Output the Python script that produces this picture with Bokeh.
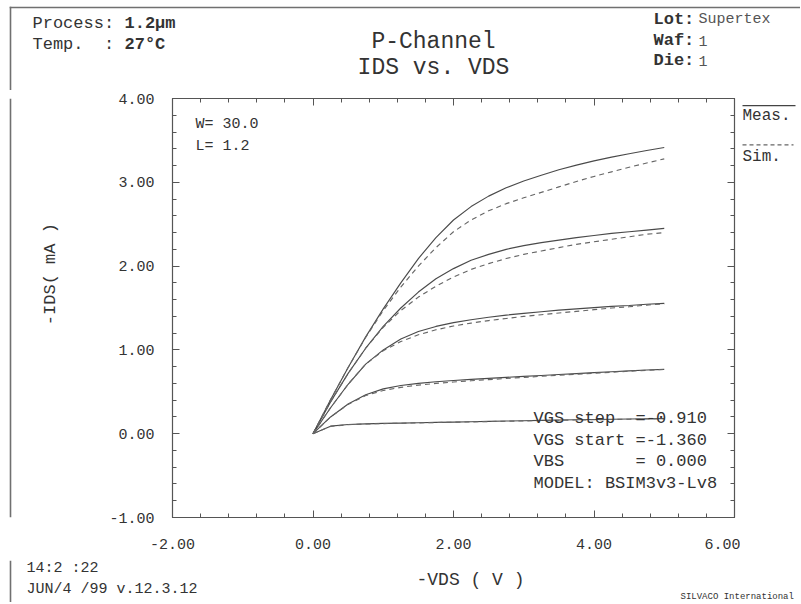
from bokeh.plotting import figure
from bokeh.models import Range1d, LinearAxis, FixedTicker, Label
from bokeh.layouts import column, row
from bokeh.embed import file_html
from bokeh.resources import INLINE
import math

# ---------------- data ----------------
vds = [0, 0.25, 0.5, 0.75, 1.0, 1.25, 1.5, 1.75, 2.0, 2.25, 2.5, 2.75,
       3.0, 3.25, 3.5, 3.75, 4.0, 4.25, 4.5, 4.75, 5.0]

meas_1 = [0, 0.405, 0.79, 1.155, 1.49, 1.80, 2.09, 2.34, 2.55, 2.71, 2.835,
          2.935, 3.015, 3.085, 3.15, 3.205, 3.255, 3.30, 3.34, 3.38, 3.415]
sim_1 = [0, 0.405, 0.79, 1.15, 1.47, 1.75, 2.00, 2.22, 2.41, 2.55, 2.66,
         2.745, 2.815, 2.88, 2.945, 3.01, 3.07, 3.125, 3.18, 3.23, 3.28]

meas_2 = [0, 0.38, 0.72, 1.02, 1.28, 1.50, 1.69, 1.85, 1.97, 2.07, 2.14,
          2.20, 2.245, 2.28, 2.31, 2.34, 2.365, 2.39, 2.41, 2.43, 2.45]
sim_2 = [0, 0.38, 0.72, 1.02, 1.27, 1.47, 1.63, 1.76, 1.87, 1.96, 2.03,
         2.09, 2.14, 2.18, 2.22, 2.26, 2.29, 2.32, 2.35, 2.38, 2.40]

meas_3 = [0, 0.31, 0.59, 0.83, 1.00, 1.13, 1.22, 1.28, 1.325, 1.36, 1.39,
          1.415, 1.435, 1.455, 1.475, 1.49, 1.505, 1.52, 1.53, 1.545, 1.555]
sim_3 = [0, 0.31, 0.59, 0.83, 0.99, 1.10, 1.18, 1.24, 1.285, 1.32, 1.35,
         1.375, 1.40, 1.42, 1.44, 1.46, 1.48, 1.50, 1.515, 1.535, 1.55]

meas_4 = [0, 0.20, 0.355, 0.465, 0.535, 0.575, 0.60, 0.62, 0.635, 0.648, 0.66,
          0.672, 0.684, 0.695, 0.706, 0.717, 0.728, 0.739, 0.75, 0.76, 0.768]
sim_4 = [0, 0.20, 0.35, 0.455, 0.515, 0.553, 0.58, 0.60, 0.617, 0.632, 0.646,
         0.659, 0.672, 0.685, 0.698, 0.71, 0.722, 0.734, 0.746, 0.757, 0.767]

meas_5 = [0, 0.09, 0.11, 0.118, 0.123, 0.127, 0.131, 0.135, 0.139, 0.143, 0.147,
          0.151, 0.155, 0.159, 0.163, 0.166, 0.169, 0.172, 0.175, 0.178, 0.18]
sim_5 = [0, 0.087, 0.108, 0.116, 0.121, 0.125, 0.129, 0.133, 0.137, 0.141, 0.145,
         0.149, 0.153, 0.157, 0.161, 0.164, 0.167, 0.170, 0.173, 0.176, 0.179]

meas_series = [meas_1, meas_2, meas_3, meas_4, meas_5]
sim_series = [sim_1, sim_2, sim_3, sim_4, sim_5]

x_ticks = [-2, 0, 2, 4, 6]
x_tick_labels = ["-2.00", "0.00", "2.00", "4.00", "6.00"]
y_ticks = [-1, 0, 1, 2, 3, 4]
y_tick_labels = ["-1.00", "0.00", "1.00", "2.00", "3.00", "4.00"]
x_minor = [round(-2 + 0.4 * i, 2) for i in range(21)]
y_minor = [round(-1 + 0.2 * i, 2) for i in range(26)]

NB = "\u00a0"
info_lines = ["VGS step" + NB * 2 + "=-0.910",
              "VGS start" + NB + "=-1.360",
              "VBS" + NB * 7 + "=" + NB + "0.000",
              "MODEL:" + NB + "BSIM3v3-Lv8"]

# ---------------- layout (page pixels) ----------------
TOTAL_W = 800
HEAD_H = 90          # header strip: page y 0..90
MID_H = 470          # middle: page y 90..560
FOOT_H = 42          # footer: page y 560..602
LEFT_W = 64          # left strip: page x 0..64
MAIN_W = 676         # main figure: page x 64..740
RIGHT_W = TOTAL_W - LEFT_W - MAIN_W   # right strip: 740..800

FL, FT, FR, FB = 172, 98, 734, 517     # plot frame, page pixels
XR = (-2.0, 6.0)
YR = (-1.0, 4.0)

MONO = "Liberation Mono"
INK = "#333333"
LINE = "#555555"
BORDER = "#707070"


def dx(px):
    return XR[0] + (px - FL) * (XR[1] - XR[0]) / (FR - FL)


def dy(py):
    return YR[1] - (py - FT) * (YR[1] - YR[0]) / (FB - FT)


def text_fig(w, h):
    f = figure(width=w, height=h, output_backend="svg", toolbar_location=None,
               title=None,
               x_range=Range1d(0, w), y_range=Range1d(h, 0),
               x_axis_type=None, y_axis_type=None,
               min_border_left=0, min_border_right=0,
               min_border_top=0, min_border_bottom=0)
    f.outline_line_color = None
    f.background_fill_color = "white"
    f.border_fill_color = "white"
    return f


def lab(fig, x, y, text, size, bold=False, align="left", color=INK, angle=0.0):
    fig.add_layout(Label(x=x, y=y, text=text, text_font=MONO,
                         text_font_size=size,
                         text_font_style="bold" if bold else "normal",
                         text_align=align, text_baseline="middle",
                         text_color=color, angle=angle))


# ---------------- main chart ----------------
p = figure(width=MAIN_W, height=MID_H, output_backend="svg", toolbar_location=None,
           title=None,
           x_range=Range1d(*XR), y_range=Range1d(*YR),
           min_border_left=FL - LEFT_W, min_border_right=LEFT_W + MAIN_W - FR,
           min_border_top=FT - HEAD_H, min_border_bottom=HEAD_H + MID_H - FB)
p.xgrid.visible = False
p.ygrid.visible = False
p.outline_line_color = LINE
p.outline_line_width = 1.2
p.background_fill_color = "white"
p.border_fill_color = "white"


def style_axis(ax, ticks, minor, labels, show):
    ax.ticker = FixedTicker(ticks=ticks, minor_ticks=minor)
    ax.major_tick_in = 7
    ax.major_tick_out = 0
    ax.minor_tick_in = 4
    ax.minor_tick_out = 0
    ax.axis_line_color = LINE
    ax.major_tick_line_color = LINE
    ax.minor_tick_line_color = LINE
    if show:
        ax.major_label_overrides = {t: s for t, s in zip(ticks, labels)}
        ax.major_label_text_font = MONO
        ax.major_label_text_font_size = "15px"
        ax.major_label_text_color = INK
    else:
        ax.major_label_standoff = 0
        ax.major_label_text_font_size = "1px"
        ax.major_label_text_color = None


style_axis(p.xaxis[0], x_ticks, x_minor, x_tick_labels, True)
p.xaxis[0].major_label_standoff = 21
style_axis(p.yaxis[0], y_ticks, y_minor, y_tick_labels, True)
p.yaxis[0].major_label_standoff = 18

top_ax = LinearAxis()
style_axis(top_ax, x_ticks, x_minor, x_tick_labels, False)
p.add_layout(top_ax, "above")
right_ax = LinearAxis()
style_axis(right_ax, y_ticks, y_minor, y_tick_labels, False)
p.add_layout(right_ax, "right")

for ys in meas_series:
    p.line(vds, ys, line_color="#4a4a4a", line_width=1.15)
for ys in sim_series:
    p.line(vds, ys, line_color="#666666", line_width=1.15, line_dash="5 4")

lab(p, dx(195), dy(124), "W=" + NB + "30.0", "15px")
lab(p, dx(195), dy(146), "L=" + NB + "1.2", "15px")
for i, s in enumerate(info_lines):
    lab(p, dx(533), dy(418 + 21.7 * i), s, "17px")

# ---------------- header ----------------
head = text_fig(TOTAL_W, HEAD_H)
# page border drawn as thin filled bars (top edge and left edge)
head.quad(left=[9.2, 9.2], right=[TOTAL_W, 10.8], top=[6.2, 6.2], bottom=[7.8, HEAD_H],
          fill_color=BORDER, line_color=None)
lab(head, 32, 23, "Process:", "17px")
lab(head, 124, 23, "1.2µm", "17px", bold=True)
lab(head, 32, 44, "Temp." + NB * 2 + ":", "17px")
lab(head, 124, 44, "27°C", "17px", bold=True)
lab(head, 433, 41, "P-Channel", "23px", align="center")
lab(head, 433, 67, "IDS vs. VDS", "23px", align="center")
lab(head, 653, 19, "Lot:", "17px", bold=True)
lab(head, 698, 19, "Supertex", "15px", color="#555555")
lab(head, 653, 40, "Waf:", "17px", bold=True)
lab(head, 698, 40, "1", "15px", color="#555555")
lab(head, 653, 60, "Die:", "17px", bold=True)
lab(head, 698, 60, "1", "15px", color="#555555")

# ---------------- left strip ----------------
left = text_fig(LEFT_W, MID_H)
left.quad(left=[9.2], right=[10.8], top=[0], bottom=[MID_H],
          fill_color=BORDER, line_color=None)
lab(left, 50, 287 - HEAD_H, "-IDS(" + NB + "mA" + NB + ")", "17px",
    align="center", angle=math.pi / 2)

# ---------------- right strip (legend) ----------------
X0R = LEFT_W + MAIN_W
right = text_fig(RIGHT_W, MID_H)
right.line([742 - X0R, 795 - X0R], [98 - HEAD_H, 98 - HEAD_H],
           line_color="#444444", line_width=1.2)
right.line([742 - X0R, 793 - X0R], [142 - HEAD_H, 142 - HEAD_H],
           line_color="#666666", line_width=1.2, line_dash="4 3")
lab(right, 742 - X0R, 110 - HEAD_H, "Meas.", "16px")
lab(right, 742 - X0R, 156 - HEAD_H, "Sim.", "16px")

# ---------------- footer ----------------
Y0F = HEAD_H + MID_H
foot = text_fig(TOTAL_W, FOOT_H)
foot.quad(left=[9.2], right=[10.8], top=[0], bottom=[FOOT_H],
          fill_color=BORDER, line_color=None)
lab(foot, 26, 568 - Y0F, "14:2" + NB + ":22", "15px")
lab(foot, 26, 589 - Y0F, "JUN/4" + NB + "/99" + NB + "v.12.3.12", "15px")
lab(foot, 470, 579 - Y0F, "-VDS" + NB + "(" + NB + "V" + NB + ")", "18px", align="center")
lab(foot, 680, 596 - Y0F, "SILVACO International", "9px")

layout = column(head, row(left, p, right, spacing=0), foot, spacing=0)

open("out.html", "w").write(file_html(layout, INLINE))
